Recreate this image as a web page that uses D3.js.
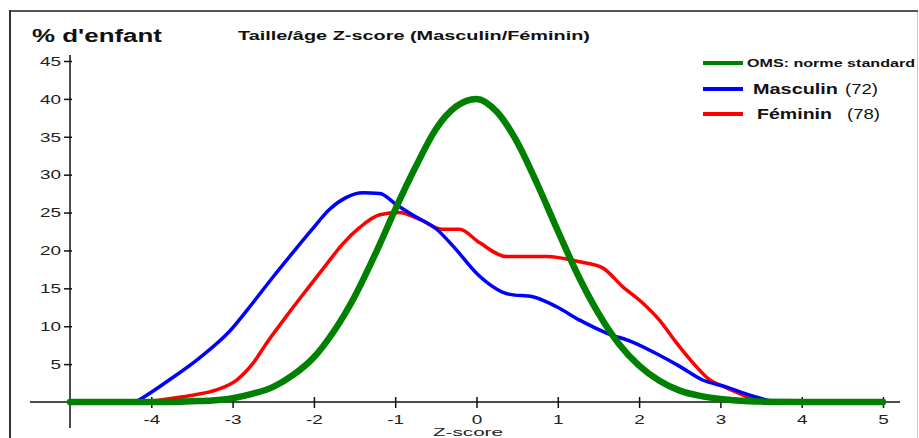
<!DOCTYPE html>
<html>
<head>
<meta charset="utf-8">
<script src="https://cdn.jsdelivr.net/npm/d3@7"></script>
<style>
  body { margin: 0; background: #fff; }
  svg { display: block; }
  text { font-family: "Liberation Sans", Arial, sans-serif; }
</style>
</head>
<body>
<div id="chart"></div>
<script>

// values
var xTicks = [-4, -3, -2, -1, 0, 1, 2, 3, 4, 5];
var yTicks = [5, 10, 15, 20, 25, 30, 35, 40, 45];

var omsZ   = [-5, -4.5, -4, -3.75, -3.5, -3.25, -3, -2.75, -2.5, -2.25, -2, -1.75, -1.5, -1.25, -1, -0.75, -0.5, -0.25, 0,
              0.25, 0.5, 0.75, 1, 1.25, 1.5, 1.75, 2, 2.25, 2.5, 2.75, 3, 3.25, 3.5, 4, 4.5, 5];
var omsVal = [0, 0, 0, 0, 0.1, 0.2, 0.5, 1.1, 2.0, 3.6, 5.9, 9.4, 13.9, 19.4, 25.4, 31.0, 36.0, 39.0, 40.0,
              38.3, 34.3, 28.7, 22.6, 16.7, 11.7, 7.7, 4.8, 2.8, 1.5, 0.8, 0.4, 0.15, 0.05, 0, 0, 0];

var masZ   = [-4.2, -4.1, -3.78, -3.41, -3.04, -2.75, -2.51, -2.26, -2.02, -1.81, -1.6, -1.4, -1.19, -0.98, -0.79, -0.49,
              -0.25, 0, 0.41, 0.69, 0.98, 1.27, 1.6, 1.92, 2.21, 2.5, 2.78, 3.07, 3.36, 3.63];
var masVal = [0, 0.6, 2.9, 5.8, 9.3, 13.1, 16.4, 19.7, 22.8, 25.4, 27.0, 27.6, 27.5, 26.0, 24.7, 22.8,
              20.1, 17.0, 14.2, 13.9, 12.6, 10.8, 9.1, 7.9, 6.4, 4.7, 2.9, 2.0, 0.9, 0.1];

var femZ   = [-4.05, -3.8, -3.49, -3.2, -2.95, -2.75, -2.58, -2.34, -2.09, -1.85, -1.65, -1.44, -1.19, -0.95, -0.7,
              -0.42, -0.21, 0.04, 0.37, 0.86, 1.27, 1.55, 1.8, 2.04, 2.25, 2.46, 2.66, 2.87, 3.07, 3.36, 3.45];
var femVal = [0, 0.4, 0.9, 1.6, 2.9, 5.1, 7.8, 11.3, 14.8, 18.1, 20.8, 23.0, 24.7, 25.0, 24.1,
              22.8, 22.8, 21.0, 19.2, 19.2, 18.5, 17.7, 15.2, 13.1, 10.8, 7.8, 5.2, 2.9, 1.9, 0.5, 0];

var series = [
  {name: "fem", z: femZ, v: femVal, color: "#ff0000", width: 3.5},
  {name: "mas", z: masZ, v: masVal, color: "#0000ff", width: 3.5},
  {name: "oms", z: omsZ, v: omsVal, color: "#008000", width: 6.5}
];

var W = 919, H = 438;

var svg = d3.select("#chart").append("svg")
  .attr("width", W)
  .attr("height", H);

// stretch text horizontally like the (widened) original
function stretch(sel, len) {
  sel.each(function() {
    var t = d3.select(this);
    var L = (typeof len === "function") ? len(this) : len;
    t.attr("textLength", L).attr("lengthAdjust", "spacingAndGlyphs");
  });
}

// frame
svg.append("line").attr("x1", 10).attr("x2", 918).attr("y1", 11).attr("y2", 11)
  .attr("stroke", "#555").attr("stroke-width", 2);
svg.append("line").attr("x1", 10).attr("x2", 10).attr("y1", 10).attr("y2", H)
  .attr("stroke", "#333").attr("stroke-width", 2);
svg.append("line").attr("x1", 917.5).attr("x2", 917.5).attr("y1", 12).attr("y2", H)
  .attr("stroke", "#c8c8c8").attr("stroke-width", 1);

var x = d3.scaleLinear().domain([-5, 5]).range([70, 883]);
var y = d3.scaleLinear().domain([0, 45]).range([402, 61]);

// axis lines
svg.append("line").attr("x1", 30).attr("x2", 900).attr("y1", y(0)).attr("y2", y(0))
  .attr("stroke", "#111").attr("stroke-width", 1.5);
svg.append("line").attr("x1", x(-5)).attr("x2", x(-5)).attr("y1", 55).attr("y2", 428)
  .attr("stroke", "#111").attr("stroke-width", 1.5);

// X axis
var gx = svg.append("g")
  .attr("transform", "translate(0," + y(0) + ")")
  .call(d3.axisBottom(x).tickValues(xTicks).tickSize(6).tickPadding(6).tickFormat(d3.format("d")));
gx.select(".domain").remove();
gx.selectAll("line").attr("y1", -5).attr("stroke", "#111").attr("stroke-width", 1.5);
gx.selectAll("text")
  .style("font-size", "13.5px")
  .attr("fill", "#222")
  .attr("dy", "0.75em")
  .text(function(d) { return d < 0 ? "-" + Math.abs(d) : d; });
stretch(gx.selectAll("text"), function(el) { return el.getComputedTextLength() * 1.4; });

// Y axis
var gy = svg.append("g")
  .attr("transform", "translate(" + x(-5) + ",0)")
  .call(d3.axisLeft(y).tickValues(yTicks).tickSize(6).tickPadding(3));
gy.select(".domain").remove();
gy.selectAll("line").attr("x1", 2).attr("stroke", "#111").attr("stroke-width", 1.5);
gy.selectAll("text")
  .style("font-size", "13.5px")
  .attr("fill", "#222");
stretch(gy.selectAll("text"), function(el) { return el.getComputedTextLength() * 1.4; });

// curves
var line = d3.line()
  .x(function(d) { return x(d[0]); })
  .y(function(d) { return y(d[1]); })
  .curve(d3.curveMonotoneX);

svg.selectAll("path.curve")
  .data(series)
  .enter()
  .append("path")
    .attr("class", function(d) { return "curve " + d.name; })
    .attr("d", function(d) { return line(d.z.map(function(z, i) { return [z, d.v[i]]; })); })
    .attr("fill", "none")
    .attr("stroke", function(d) { return d.color; })
    .attr("stroke-width", function(d) { return d.width; })
    .attr("stroke-linejoin", "round")
    .attr("stroke-linecap", "round");

// titles
var t1 = svg.append("text").attr("x", 32).attr("y", 42)
  .style("font-size", "18px").style("font-weight", "bold").attr("fill", "#111")
  .text("% d'enfant");
stretch(t1, 130);

var t2 = svg.append("text").attr("x", 238).attr("y", 40)
  .style("font-size", "12.5px").style("font-weight", "bold").attr("fill", "#111")
  .text("Taille/âge Z-score (Masculin/Féminin)");
stretch(t2, 352);

// legend
var legend = [
  {label: "OMS: norme standard", extra: null, color: "#008000", ly: 63, tx: 747, ty: 67, size: 11, len: 168},
  {label: "Masculin", extra: "(72)", color: "#0000ff", ly: 89, tx: 753, ty: 94, size: 15.5, len: 85, ex: 845},
  {label: "Féminin", extra: "(78)", color: "#ff0000", ly: 114, tx: 757, ty: 119, size: 15.5, len: 75, ex: 847}
];

var lg = svg.selectAll("g.leg").data(legend).enter().append("g").attr("class", "leg");
lg.append("line")
  .attr("x1", 703).attr("x2", 743)
  .attr("y1", function(d) { return d.ly; }).attr("y2", function(d) { return d.ly; })
  .attr("stroke", function(d) { return d.color; })
  .attr("stroke-width", 4);
lg.append("text")
  .attr("x", function(d) { return d.tx; })
  .attr("y", function(d) { return d.ty; })
  .style("font-size", function(d) { return d.size + "px"; })
  .style("font-weight", "bold")
  .attr("fill", "#111")
  .text(function(d) { return d.label; })
  .each(function(d) { stretch(d3.select(this), d.len); });
lg.filter(function(d) { return d.extra; })
  .append("text")
  .attr("x", function(d) { return d.ex; })
  .attr("y", function(d) { return d.ty; })
  .style("font-size", function(d) { return d.size + "px"; })
  .attr("fill", "#111")
  .text(function(d) { return d.extra; })
  .each(function() { stretch(d3.select(this), 33); });

// x label (kept fully inside the picture)
var xl = svg.append("text").attr("x", 433).attr("y", 436)
  .style("font-size", "11.5px").attr("fill", "#222")
  .text("Z-score");
stretch(xl, 70);

</script>
</body>
</html>
